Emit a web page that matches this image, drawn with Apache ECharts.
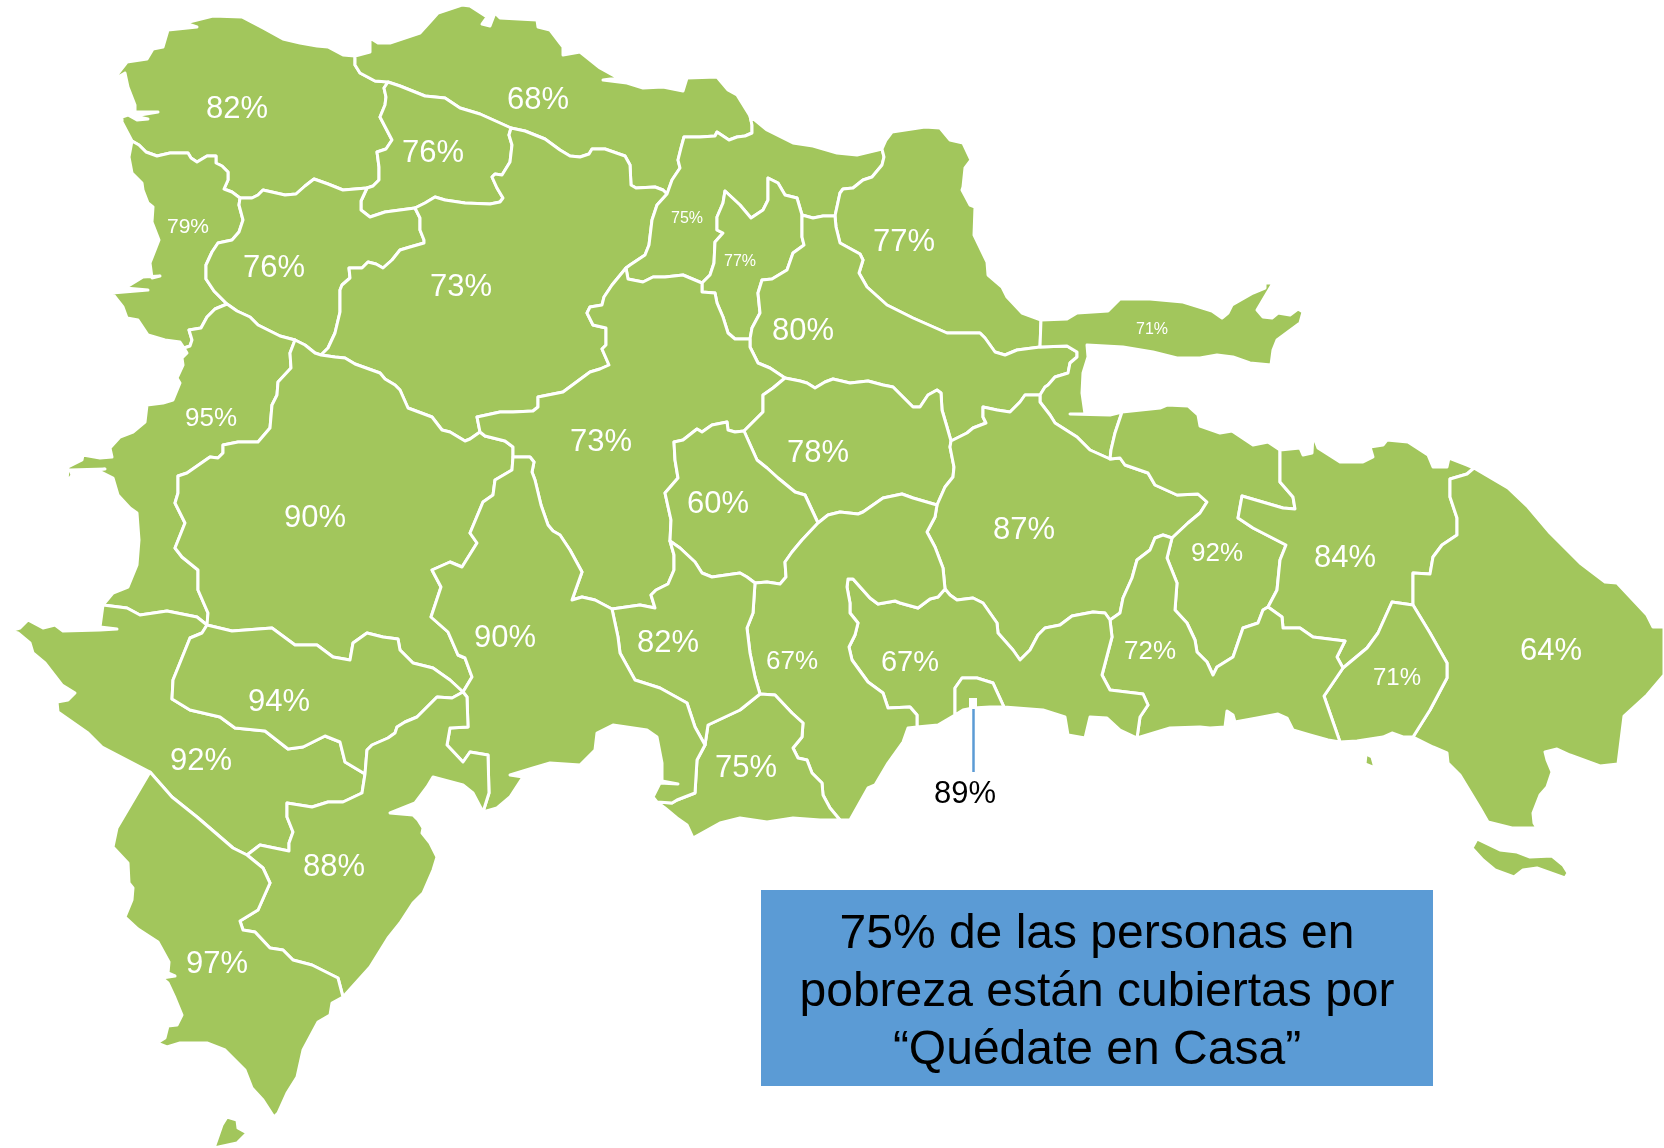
<!DOCTYPE html>
<html>
<head>
<meta charset="UTF-8">
<title>Pobreza por provincia</title>
<script src="https://cdn.jsdelivr.net/npm/echarts@6/dist/echarts.min.js"></script>
<style>html,body{margin:0;background:#fff}</style>
</head>
<body>
<div id="main" style="width:1664px;height:1148px;"></div>
<script>
// Province data
var provinceNames = ['Monte Cristi','Puerto Plata','Valverde','Dajabón','Santiago Rodríguez','Santiago','Espaillat','Hermanas Mirabal','María Trinidad Sánchez','Duarte','Samaná','Elías Piña','San Juan','La Vega','Sánchez Ramírez','Monseñor Nouel','Monte Plata','Hato Mayor','El Seibo','La Altagracia','La Romana','San Pedro de Macorís','Santo Domingo','Distrito Nacional','San Cristóbal','Peravia','San José de Ocoa','Azua','Independencia','Bahoruco','Barahona','Pedernales'];
var provinceValues = [82,68,76,79,76,73,75,77,77,80,71,95,90,73,78,60,87,92,84,64,71,72,67,89,67,75,82,90,92,94,88,97];
var labelPoints = [[237,107],[538,98],[433,151],[188,225],[274,266],[461,285],[687,217],[740,260],[904,240],[803,329],[1152,328],[211,417],[315,516],[601,440],[818,451],[718,502],[1024,528],[1217,552],[1345,556],[1551,649],[1397,676],[1150,650],[910,661],[965,792],[792,660],[746,766],[668,641],[505,636],[201,759],[279,700],[334,865],[217,962]];
var labelSizes = [31,31,31,21,31,31,16,16,31,31,16,26,31,31,31,31,31,26,31,31,24,26,29,31,26,31,31,31,31,31,31,31];
var calloutLines = ['75% de las personas en','pobreza están cubiertas por','“Quédate en Casa”'];

// Map outline, in picture pixels: shared borders first, then the coast
var mcPP = [[355,56],[355,65],[360,73],[375,81],[388,82]];
var mcVal = [[388,82],[384,88],[386,97],[385,105],[380,117],[392,140],[386,149],[377,152],[379,167],[379,180],[373,186],[367,188]];
var mcSR = [[367,188],[343,190],[328,184],[314,179],[305,186],[296,194],[285,195],[263,190],[258,195],[252,198],[240,198]];
var mcDaj = [[240,198],[232,192],[224,189],[228,180],[228,172],[222,166],[216,163],[216,156],[207,156],[197,162],[191,158],[188,153],[170,153],[157,156],[146,152],[139,145],[132,141]];
var srDaj = [[240,198],[239,205],[243,220],[239,232],[232,240],[218,243],[212,252],[206,265],[206,279],[214,291],[227,304]];
var dajEP = [[227,304],[215,309],[207,317],[201,328],[189,330],[192,340],[190,346],[184,348]];
var srEP = [[227,304],[237,311],[250,317],[258,325],[280,336],[295,340]];
var srSJ = [[295,340],[305,345],[315,353],[321,355]];
var srSan = [[321,355],[328,348],[335,333],[340,312],[340,290],[342,285],[350,278],[349,268],[362,268],[368,262],[376,264],[383,268],[392,260],[400,250],[410,247],[424,243],[424,240],[420,230],[420,218],[415,208]];
var srVal = [[367,188],[361,201],[361,210],[370,217],[385,212],[400,210],[415,208]];
var valSan = [[415,208],[425,203],[435,197],[445,200],[465,203],[490,204],[500,202],[503,198],[497,188],[492,177],[495,174],[502,175],[510,162],[512,145],[509,135],[511,128]];
var ppVal = [[388,82],[400,86],[425,96],[445,98],[460,108],[480,114],[500,123],[511,128]];
var ppSan = [[511,128],[525,131],[545,139],[560,150],[570,156],[580,157],[589,154],[592,149],[605,149],[625,156],[630,165],[631,185],[636,188],[655,187],[663,190],[667,194]];
var ppEsp = [[667,194],[672,180],[680,168],[678,160],[681,148],[684,137],[700,137],[715,136],[717,132],[729,140],[737,137],[745,136],[752,133],[752,125],[750,116]];
var espSan = [[667,194],[657,205],[652,220],[649,245],[645,255],[630,265],[626,268]];
var sanLV = [[626,268],[612,285],[604,297],[602,305],[590,307],[587,313],[593,325],[606,328],[606,345],[602,349],[609,365],[600,369],[590,372],[563,392],[538,397],[538,407],[533,411],[513,412],[500,412],[477,417],[480,432]];
var sanSJ = [[321,355],[335,357],[345,358],[355,364],[380,373],[385,379],[395,385],[400,390],[408,408],[432,417],[442,430],[450,432],[465,441],[470,439],[480,432]];
var sjLV = [[480,432],[485,436],[505,441],[513,447],[513,457]];
var azLV = [[513,457],[530,457],[534,462],[532,472],[535,480],[541,505],[548,525],[553,531],[560,535],[570,550],[582,572],[572,600],[582,597],[595,600],[612,609]];
var ocLV = [[612,609],[640,605],[655,608],[651,595],[656,590],[668,584],[674,570],[674,555],[670,541]];
var lvMN = [[670,541],[671,520],[665,493],[678,478],[675,460],[674,442],[683,440],[697,429],[702,432],[712,425],[727,422],[728,430],[735,432],[744,431]];
var lvSR = [[744,431],[763,412],[763,395],[773,388],[785,378]];
var mnSR = [[744,431],[757,460],[767,468],[778,478],[795,492],[805,495],[818,523]];
var espLV = [[626,268],[628,279],[643,282],[653,277],[665,277],[683,275],[702,283]];
var mirLV = [[702,283],[702,292],[715,293],[717,303],[723,317],[728,333],[735,339],[750,339]];
var mirDu = [[750,339],[752,328],[760,313],[758,293],[762,280],[772,279],[787,270],[793,253],[804,245],[802,237],[802,215]];
var espMir = [[802,215],[797,198],[785,195],[778,183],[768,178],[768,200],[763,210],[751,218],[740,205],[725,191],[723,203],[717,217],[717,230],[723,233],[715,242],[714,263],[710,275],[702,283]];
var espDu = [[802,215],[813,218],[823,216],[835,216]];
var espMTS = [[835,216],[840,193],[843,189],[853,188],[863,180],[872,177],[882,165],[884,157],[882,149]];
var duMTS = [[835,216],[836,227],[840,243],[860,254],[863,260],[859,273],[867,287],[887,305],[913,318],[947,333],[980,333],[985,338],[995,352],[1005,355],[1017,350],[1040,347]];
var mtsSam = [[1041,320],[1040,347]];
var duSam = [[1040,347],[1067,346],[1077,352],[1077,357],[1070,363],[1068,373],[1055,377],[1048,385],[1045,387],[1040,395]];
var duMP = [[1040,395],[1025,395],[1020,402],[1010,412],[997,410],[983,407],[983,417],[986,423],[973,428],[967,433],[951,441]];
var duSR = [[951,441],[947,427],[942,410],[941,393],[937,390],[928,395],[920,407],[913,407],[903,397],[893,387],[883,385],[868,381],[850,383],[833,379],[825,382],[815,388],[807,383],[800,381],[785,378]];
var duLV = [[750,339],[750,347],[758,363],[770,368],[785,378]];
var mpSam = [[1040,395],[1040,402],[1050,415],[1055,423],[1077,437],[1090,450],[1110,459]];
var samHM = [[1122,412],[1115,433],[1111,450],[1110,459]];
var mpHM = [[1110,459],[1120,458],[1125,465],[1148,473],[1155,485],[1177,495],[1198,494],[1207,502],[1200,513],[1188,523],[1172,538]];
var mpSPM = [[1172,538],[1163,535],[1155,538],[1150,550],[1137,560],[1132,578],[1123,598],[1120,613],[1110,620]];
var mpSD = [[1110,620],[1105,613],[1093,612],[1072,616],[1060,625],[1045,628],[1038,635],[1030,650],[1020,660],[1013,650],[998,633],[997,623],[983,603],[973,598],[957,600],[950,595],[945,589]];
var srMP = [[951,441],[950,447],[954,467],[953,477],[945,487],[937,505]];
var mpSC = [[937,505],[935,517],[927,532],[935,547],[943,568],[945,589]];
var srSC = [[818,523],[828,515],[840,512],[858,514],[863,512],[883,498],[902,494],[913,498],[937,505]];
var scSD = [[945,589],[938,597],[930,599],[918,608],[900,603],[895,601],[878,604],[870,598],[853,579],[848,579],[847,587],[850,603],[850,613],[858,623],[855,635],[849,647],[852,660],[868,682],[883,693],[888,708],[910,707],[917,715],[917,727]];
var mnSC = [[818,523],[802,540],[792,552],[785,562],[786,577],[780,584],[767,582],[755,583]];
var mnOc = [[670,541],[680,548],[695,562],[702,573],[712,577],[740,573],[747,577],[755,583]];
var ocSC = [[755,583],[753,613],[747,628],[750,653],[755,677],[760,694]];
var ocPer = [[760,694],[740,710],[708,725],[705,745]];
var azOc = [[612,609],[618,637],[620,653],[635,680],[660,688],[687,703],[695,727],[705,745]];
var azPer = [[705,745],[697,760],[695,793],[677,800],[672,803],[657,802]];
var perSC = [[760,694],[775,695],[792,713],[803,723],[802,737],[793,748],[798,758],[807,760],[812,773],[822,783],[823,795],[830,808],[840,820]];
var sjAz = [[513,457],[512,470],[495,480],[493,495],[483,502],[470,533],[477,543],[462,567],[450,562],[432,570],[441,587],[431,617],[448,632],[458,655],[465,658],[472,677],[463,692]];
var epSJ = [[295,340],[290,353],[291,368],[278,382],[277,395],[272,405],[270,428],[258,442],[238,442],[223,445],[223,453],[218,458],[210,457],[187,473],[178,476],[178,493],[175,503],[185,523],[175,548],[182,557],[198,570],[198,590],[208,613],[207,625]];
var indEP = [[207,625],[197,617],[167,611],[140,615],[127,608],[103,605]];
var indBah = [[207,625],[202,633],[190,638],[173,680],[172,699],[190,710],[220,717],[235,728],[265,731],[288,749],[303,747],[325,736],[340,742],[345,762],[365,774]];
var bahBar = [[365,774],[367,750],[372,745],[388,738],[395,733],[397,727],[405,722],[417,717],[437,697],[452,698],[463,692]];
var bahSJ = [[207,625],[232,631],[272,628],[295,645],[317,645],[333,657],[350,660],[353,643],[367,633],[383,637],[398,639],[400,650],[413,663],[433,668],[450,680],[463,692]];
var azBar = [[463,692],[467,697],[468,727],[450,728],[447,745],[463,762],[470,752],[488,755],[489,793],[483,812]];
var indBar = [[365,774],[362,793],[343,802],[328,802],[312,807],[287,803],[287,817],[293,832],[289,843],[289,851],[260,845],[247,855]];
var indPed = [[247,855],[233,848],[197,817],[172,797],[150,772]];
var barPed = [[247,855],[263,868],[270,883],[258,910],[240,921],[243,930],[255,932],[270,948],[283,950],[293,960],[312,965],[338,978],[343,997]];
var hmSPM = [[1172,538],[1167,558],[1177,583],[1175,610],[1187,623],[1195,640],[1197,652],[1207,662],[1213,675],[1217,667],[1233,657],[1243,628],[1258,623],[1263,610],[1268,607]];
var hmSeibo = [[1268,607],[1277,590],[1280,560],[1286,545],[1253,528],[1238,518],[1242,496],[1283,508],[1295,509],[1293,497],[1280,482],[1280,450]];
var seiboAlt = [[1474,468],[1467,474],[1450,479],[1450,497],[1457,518],[1457,535],[1442,545],[1433,557],[1430,574],[1413,573],[1413,605]];
var seiboRom = [[1413,605],[1392,602],[1378,633],[1367,648],[1343,668]];
var spmSeibo = [[1268,607],[1282,617],[1283,628],[1300,628],[1313,637],[1345,641],[1337,657],[1343,668]];
var spmRom = [[1343,668],[1324,696],[1340,742]];
var romAlt = [[1413,605],[1430,633],[1447,663],[1447,678],[1430,710],[1413,737]];
var spmSD = [[1110,620],[1112,637],[1102,675],[1110,690],[1143,694],[1148,705],[1140,717],[1137,738]];
var dnArc = [[955,715],[955,688],[962,678],[977,678],[993,683],[1004,707]];

var coastMC = [[132,141],[122,122],[122,117],[128,115],[137,120],[148,119],[134,116],[158,112],[135,112],[135,105],[128,87],[125,73],[113,80],[127,62],[147,59],[153,49],[163,47],[168,30],[197,27],[185,23],[213,16],[242,17],[263,28],[283,39],[300,43],[317,46],[328,47],[343,55],[355,56]];
var coastPP = [[355,56],[370,52],[370,38],[378,43],[390,43],[420,33],[430,22],[438,13],[462,5],[470,6],[487,17],[482,24],[490,26],[495,13],[500,18],[537,20],[538,27],[550,30],[563,47],[563,55],[580,52],[600,68],[618,78],[603,80],[627,83],[643,88],[663,87],[683,91],[687,78],[717,77],[728,90],[737,95],[750,116]];
var coastEsp = [[750,116],[767,130],[793,143],[813,146],[837,153],[857,155],[882,149]];
var coastMTS = [[882,149],[886,140],[892,132],[925,127],[940,128],[950,140],[963,143],[971,160],[965,168],[963,187],[962,190],[970,205],[975,207],[974,235],[987,262],[988,275],[1002,287],[1007,297],[1022,313],[1041,320]];
var coastSam = [[1041,320],[1067,319],[1077,313],[1108,311],[1120,299],[1150,299],[1183,302],[1212,311],[1222,318],[1228,313],[1232,305],[1253,293],[1265,288],[1265,283],[1273,283],[1257,310],[1263,317],[1272,318],[1278,313],[1290,315],[1298,309],[1303,312],[1300,323],[1277,340],[1273,350],[1271,365],[1250,363],[1233,357],[1217,355],[1200,358],[1177,358],[1153,352],[1123,347],[1087,345],[1088,357],[1083,373],[1082,393],[1085,414],[1070,414],[1110,415],[1122,412]];
var coastHM = [[1122,412],[1160,408],[1167,405],[1188,406],[1198,415],[1200,426],[1220,433],[1232,431],[1253,445],[1268,442],[1280,450]];
var coastSeibo = [[1280,450],[1300,448],[1303,455],[1312,453],[1313,435],[1318,448],[1340,462],[1363,462],[1373,457],[1370,447],[1383,445],[1387,440],[1408,442],[1428,455],[1433,467],[1447,467],[1449,458],[1467,465],[1474,468]];
var coastAlt = [[1474,468],[1508,488],[1528,507],[1550,533],[1580,563],[1605,582],[1617,583],[1647,615],[1653,627],[1664,627],[1664,675],[1647,695],[1624,716],[1618,764],[1600,766],[1570,755],[1557,749],[1545,752],[1547,760],[1552,772],[1547,787],[1540,795],[1533,813],[1534,823],[1537,828],[1512,828],[1488,822],[1480,808],[1460,775],[1448,763],[1447,753],[1433,747],[1413,737]];
var coastRom = [[1413,737],[1403,737],[1392,733],[1383,737],[1357,741],[1340,742]];
var coastSPM = [[1340,742],[1328,740],[1310,735],[1293,730],[1287,718],[1278,714],[1257,718],[1235,722],[1233,715],[1227,711],[1225,727],[1210,728],[1200,727],[1170,728],[1137,738]];
var coastSD1 = [[1137,738],[1120,730],[1107,718],[1090,717],[1085,738],[1068,735],[1065,717],[1043,710],[1004,707]];
var dnCoast = [[1004,707],[990,707],[973,708],[963,710],[955,715]];
var coastSD2 = [[955,715],[938,725],[917,727]];
var coastSC = [[917,727],[908,728],[903,742],[888,763],[875,785],[868,788],[850,820],[840,820]];
var coastPer = [[840,820],[820,820],[793,818],[767,822],[740,818],[720,823],[693,838],[687,825],[677,818],[665,808],[657,802]];
var coastAz = [[657,802],[653,797],[660,783],[678,784],[662,781],[662,763],[657,737],[647,730],[613,725],[597,733],[595,750],[580,765],[550,763],[533,768],[510,775],[523,777],[510,797],[497,808],[483,812]];
var coastBar = [[483,812],[473,793],[463,785],[433,777],[427,787],[415,803],[390,813],[413,815],[418,820],[423,828],[422,833],[430,843],[437,857],[433,870],[423,893],[413,903],[400,923],[388,938],[370,967],[343,997]];
var coastPed = [[343,997],[332,1003],[330,1015],[318,1022],[303,1050],[297,1077],[287,1093],[278,1113],[274,1117],[263,1100],[252,1088],[245,1070],[225,1050],[207,1043],[180,1043],[167,1047],[157,1043],[165,1038],[168,1026],[177,1025],[182,1015],[175,998],[168,983],[162,978],[175,976],[168,973],[169,962],[158,942],[138,929],[125,917],[132,900],[133,888],[129,883],[128,863],[113,847],[117,828],[150,772]];
var coastInd = [[150,772],[102,747],[88,733],[58,712],[57,702],[68,700],[75,693],[62,685],[45,663],[33,653],[30,643],[18,633],[10,631],[20,628],[28,620],[43,628],[55,625],[63,631],[100,630],[117,629],[100,627],[103,605]];
var coastEP = [[103,605],[113,593],[128,587],[137,565],[139,540],[137,513],[130,508],[118,495],[113,478],[97,470],[105,469],[70,470],[72,475],[67,482],[68,467],[82,460],[83,455],[100,458],[112,457],[110,448],[120,437],[133,432],[145,422],[147,405],[163,403],[173,400],[180,383],[177,378],[183,365],[182,358],[187,353],[184,348]];
var coastDaj = [[184,348],[180,342],[165,340],[148,335],[138,320],[127,318],[123,307],[112,293],[148,290],[125,288],[143,277],[160,276],[152,278],[150,263],[159,240],[152,222],[153,207],[148,203],[143,190],[142,183],[132,173],[129,157],[132,141]];
var islandSaona = [[1477,839],[1500,850],[1517,852],[1530,857],[1552,856],[1563,865],[1568,873],[1565,878],[1537,868],[1523,870],[1514,877],[1495,870],[1483,860],[1472,848]];
var islandCatalina = [[1366,754],[1372,757],[1375,768],[1365,764]];
var islandBeata = [[227,1117],[237,1120],[238,1128],[247,1133],[237,1143],[214,1148],[222,1125]];

var leaderLine = [[973.5,709],[973.5,772]];
var leaderTip = [973,703];

function rev(arc){ return arc.slice().reverse(); }

// each province: its border arcs in ring order, then any islands
var provinceRings = {
	'Monte Cristi':[coastMC,mcPP,mcVal,mcSR,mcDaj],
	'Puerto Plata':[coastPP,rev(ppEsp),rev(ppSan),rev(ppVal),rev(mcPP)],
	'Valverde':[ppVal,rev(valSan),rev(srVal),rev(mcVal)],
	'Dajabón':[rev(mcDaj),srDaj,dajEP,coastDaj],
	'Santiago Rodríguez':[srVal,rev(srSan),rev(srSJ),rev(srEP),rev(srDaj),rev(mcSR)],
	'Santiago':[srSan,valSan,ppSan,espSan,sanLV,rev(sanSJ)],
	'Espaillat':[ppEsp,coastEsp,rev(espMTS),rev(espDu),espMir,rev(espLV),rev(espSan)],
	'Hermanas Mirabal':[rev(espMir),rev(mirDu),rev(mirLV)],
	'María Trinidad Sánchez':[espMTS,coastMTS,mtsSam,rev(duMTS)],
	'Duarte':[espDu,duMTS,duSam,duMP,duSR,rev(duLV),mirDu],
	'Samaná':[coastSam,samHM,rev(mpSam),rev(duSam),rev(mtsSam)],
	'Elías Piña':[coastEP,rev(dajEP),srEP,epSJ,indEP],
	'San Juan':[rev(epSJ),srSJ,sanSJ,sjLV,sjAz,rev(bahSJ)],
	'La Vega':[rev(sanLV),espLV,mirLV,duLV,rev(lvSR),rev(lvMN),rev(ocLV),rev(azLV),rev(sjLV)],
	'Sánchez Ramírez':[lvSR,rev(duSR),srMP,rev(srSC),rev(mnSR)],
	'Monseñor Nouel':[lvMN,mnSR,mnSC,rev(mnOc)],
	'Monte Plata':[rev(duMP),mpSam,mpHM,mpSPM,mpSD,rev(mpSC),rev(srMP)],
	'Hato Mayor':[coastHM,rev(hmSeibo),rev(hmSPM),rev(mpHM),rev(samHM)],
	'El Seibo':[coastSeibo,seiboAlt,seiboRom,rev(spmSeibo),hmSeibo],
	'La Altagracia':[coastAlt,rev(romAlt),rev(seiboAlt)],
	'La Romana':[romAlt,coastRom,rev(spmRom),rev(seiboRom)],
	'San Pedro de Macorís':[hmSPM,spmSeibo,spmRom,coastSPM,rev(spmSD),rev(mpSPM)],
	'Santo Domingo':[rev(mpSD),spmSD,coastSD1,rev(dnArc),coastSD2,rev(scSD)],
	'Distrito Nacional':[dnArc,dnCoast],
	'San Cristóbal':[srSC,mpSC,scSD,coastSC,rev(perSC),rev(ocSC),rev(mnSC)],
	'Peravia':[perSC,coastPer,rev(azPer),rev(ocPer)],
	'San José de Ocoa':[mnOc,ocSC,ocPer,rev(azOc),ocLV],
	'Azua':[azLV,azOc,azPer,coastAz,rev(azBar),rev(sjAz)],
	'Independencia':[rev(indEP),indBah,indBar,indPed,coastInd],
	'Bahoruco':[bahSJ,rev(bahBar),rev(indBah)],
	'Barahona':[bahBar,azBar,coastBar,rev(barPed),rev(indBar)],
	'Pedernales':[barPed,coastPed,rev(indPed)]
};
var provinceIslands = {
	'La Altagracia':[islandSaona,islandCatalina],
	'Pedernales':[islandBeata]
};

function flip(p){ return [p[0],-p[1]]; }

function ringOf(arcs){
	var ring = [];
	arcs.forEach(function(arc){
		arc.forEach(function(p){
			var last = ring[ring.length-1];
			if(!last || last[0]!=p[0] || last[1]!=-p[1]) ring.push(flip(p));
		});
	});
	return ring;
}

var features = provinceNames.map(function(name,i){
	var polys = [[ringOf(provinceRings[name])]];
	(provinceIslands[name]||[]).forEach(function(isl){ polys.push([isl.map(flip)]); });
	return {
		type:'Feature',
		properties:{name:name,cp:flip(labelPoints[i])},
		geometry:{type:'MultiPolygon',coordinates:polys}
	};
});

echarts.registerMap('dr',{type:'FeatureCollection',features:features});

var FONT = '"Liberation Sans"';
var bounds = [[0,0],[1664,-1148]];

var seriesData = provinceNames.map(function(name,i){
	return {
		name:name,
		value:provinceValues[i],
		label:{fontSize:labelSizes[i],color:name=='Distrito Nacional'?'#000':'#fff'}
	};
});

var chart = echarts.init(document.getElementById('main'));
chart.setOption({
	animation:false,
	backgroundColor:'#fff',
	// invisible second copy of the map, only there to place the leader line
	geo:{
		map:'dr',
		aspectScale:1,
		boundingCoords:bounds,
		layoutCenter:[832,574],
		layoutSize:1664,
		silent:true,
		label:{show:false},
		itemStyle:{areaColor:'transparent',borderWidth:0},
		emphasis:{disabled:true}
	},
	series:[{
		type:'map',
		map:'dr',
		aspectScale:1,
		boundingCoords:bounds,
		layoutCenter:[832,574],
		layoutSize:1664,
		silent:true,
		data:seriesData,
		itemStyle:{areaColor:'#a2c65c',borderColor:'#fff',borderWidth:3,borderJoin:'round'},
		emphasis:{disabled:true},
		select:{disabled:true},
		label:{show:true,formatter:'{c}%',fontFamily:FONT,offset:[0,2]}
	},{
		type:'lines',
		coordinateSystem:'geo',
		polyline:true,
		silent:true,
		z:3,
		lineStyle:{color:'#5b9bd5',width:2.5,opacity:1},
		data:[{coords:leaderLine.map(flip)}]
	},{
		type:'scatter',
		coordinateSystem:'geo',
		silent:true,
		z:3,
		symbol:'rect',
		symbolSize:[8,10],
		itemStyle:{color:'#fff',opacity:1},
		data:[flip(leaderTip)]
	}],
	graphic:[{
		type:'rect',
		shape:{x:761,y:890,width:672,height:196},
		style:{fill:'#5b9bd5'},
		silent:true
	},{
		type:'text',
		x:1097,
		y:993,
		silent:true,
		style:{
			text:calloutLines.join('\n'),
			font:'48px "Liberation Sans"',
			lineHeight:58,
			fill:'#000',
			align:'center',
			verticalAlign:'middle'
		}
	}]
});
</script>
</body>
</html>
